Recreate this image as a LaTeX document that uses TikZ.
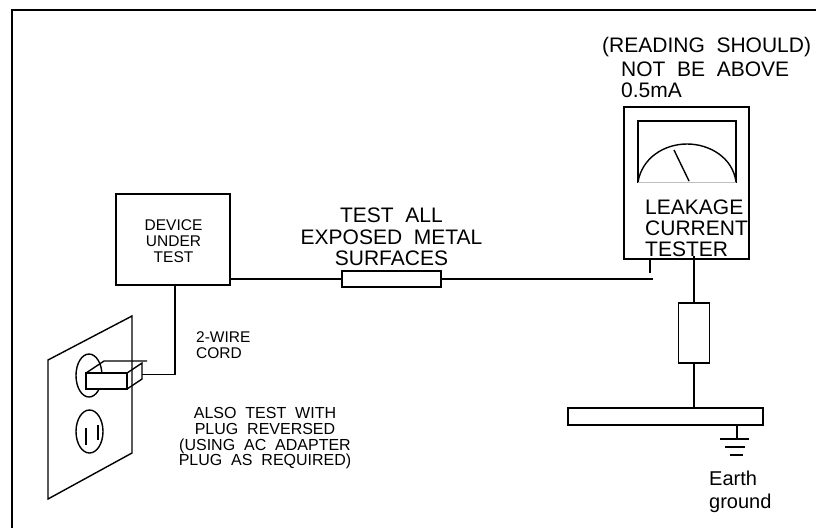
\documentclass[tikz,border=0pt]{standalone}
\usepackage{fontspec}
\setmainfont{Liberation Sans}
\newfontfamily\widefont[WordSpace=2]{Liberation Sans}
\tikzset{
  wire/.style={line width=1.4pt},
  boxnode/.style={draw,line width=1.4pt,fill=white,inner sep=0pt,outer sep=0pt,anchor=north west},
  biglabel/.style={font=\widefont\fontsize{21}{21.5}\selectfont,inner sep=0pt,align=center},
  smalllabel/.style={font=\fontsize{15.5}{16}\selectfont,inner sep=0pt,align=center},
  widelabel/.style={font=\widefont\fontsize{16}{15.7}\selectfont,inner sep=0pt,align=center}
}
\begin{document}
\begin{tikzpicture}[x=1pt,y=-1pt,line join=miter]
	\useasboundingbox (0,0) rectangle (816,528);
	\draw[line width=1.4pt] (12,528) -- (12,10) -- (816,10);

	% device and probe
	\path (116,194) node[boxnode,minimum width=114pt,minimum height=91pt] (device) {};
	\path (173.5,241) node[smalllabel] (devicetext) {DEVICE\\UNDER\\TEST};
	\path (342,271) node[boxnode,minimum width=99pt,minimum height=16pt] (probe) {};
	\path (391.5,237) node[biglabel] (probetext) {TEST ALL\\EXPOSED METAL\\SURFACES};
	\coordinate (probeend) at (653,279);
	\draw[wire] (device.east |- probe.west) -- (probe.west);
	\draw[wire] (probe.east) -- (probeend);

	% tester
	\path (624,107) node[boxnode,minimum width=125pt,minimum height=152pt] (tester) {};
	\path (638,121) node[boxnode,minimum width=98pt,minimum height=61pt] (dial) {};
	\draw[white,line width=1.6pt] (dial.south west) -- (dial.south east);
	\draw[gray!50,line width=0.5pt] (dial.south west) -- (dial.south east);
	\draw[wire] (dial.south west) .. controls (642,158) and (664,144) .. (687,144) .. controls (710,144) and (733,158) .. (dial.south east);
	\coordinate (needletip) at (674,150);
	\coordinate (needlefoot) at (689,181);
	\draw[wire] (needletip) -- (needlefoot);
	\path (645,207) node[biglabel,anchor=west] (leakagetext) {LEAKAGE};
	\path (645,228) node[biglabel,anchor=west] (currenttext) {CURRENT};
	\path (645,249) node[biglabel,anchor=west] (testertext) {TESTER};
	\coordinate (studend) at (650,273);
	\draw[wire] (tester.south -| studend) -- (studend);
	\path (602,47) node[biglabel,anchor=west] (readingtext) {(READING SHOULD)};
	\path (621,69) node[biglabel,anchor=west] (abovetext) {NOT BE ABOVE};
	\path (621,90) node[biglabel,anchor=west] (currentlimit) {0.5mA};

	% resistor and earth
	\path (678.5,303) node[boxnode,minimum width=31pt,minimum height=60pt] (resistor) {};
	\path (568,408) node[boxnode,minimum width=195pt,minimum height=17pt] (bar) {};
	\coordinate (testerfoot) at (694,256);
	\draw[wire] (testerfoot) -- (resistor.north);
	\draw[wire] (resistor.south) -- (resistor.south |- bar.north);
	\coordinate (groundtop) at (737,439);
	\draw[wire] (bar.south -| groundtop) -- (groundtop);
	\draw[wire] (720,439) -- (749,439);
	\draw[wire] (725,447) -- (745,447);
	\draw[wire] (730,455) -- (743,455);
	\path (709,491.5) node[font=\fontsize{20}{23}\selectfont,inner sep=0pt,anchor=west,align=left] (earthtext) {Earth\\ground};

	% outlet
	\draw[wire] (48,360) -- (132,316) -- (132,453) -- (48,499) -- cycle;
	\draw[wire] (89,375.5) ellipse (13 and 21.5);
	\draw[wire] (89.5,431.5) ellipse (13.5 and 21.5);
	\draw[wire] (86,428) -- (86,445);
	\draw[wire] (98,425) -- (98,440);

	% plug
	\path (86,373) node[boxnode,minimum width=41pt,minimum height=16pt] (plug) {};
	\draw[wire] (plug.north west) -- (104,361) -- (147,361);
	\draw[wire] (plug.north east) -- (142,363) -- (142,379) -- (plug.south east);
	\coordinate (cordcorner) at (175,374.5);
	\draw[wire] (142,374.5) -- (cordcorner) -- (cordcorner |- device.south);

	\path (196,345) node[smalllabel,anchor=west,align=left] (cordtext) {2-WIRE\\CORD};
	\path (265,438.5) node[widelabel] (reversetext) {ALSO TEST WITH\\PLUG REVERSED\\(USING AC ADAPTER\\PLUG AS REQUIRED)};
\end{tikzpicture}
\end{document}
